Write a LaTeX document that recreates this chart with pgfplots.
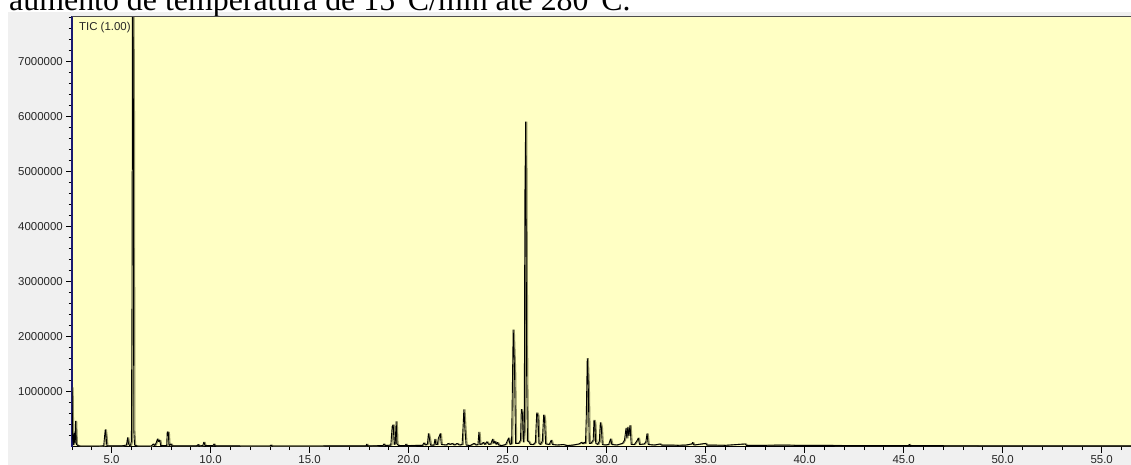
\documentclass[border=0pt]{standalone}
\usepackage{pgfplots}
\pgfplotsset{compat=1.18}
\usepackage{pgfplotstable}
\usepackage{fontspec}
\setmainfont{Liberation Sans}
\newfontfamily\seriffont{Liberation Serif}
\definecolor{plotyellow}{HTML}{FFFFC4}
\definecolor{panelgray}{HTML}{F0F0F0}
\definecolor{oliveshade}{HTML}{8C8C60}
\definecolor{navyaxis}{HTML}{1A1A70}
\pgfplotstableread{
t v
3.00 1080000
3.03 150000
3.07 30000
3.10 250000
3.14 60000
3.18 470000
3.22 40000
3.30 20000
3.40 10000
4.00 10000
4.40 12000
4.60 15000
4.68 316000
4.72 190000
4.76 15000
5.50 15000
5.75 30000
5.81 170000
5.85 60000
5.90 20000
5.96 30000
6.00 100000
6.03 2730000
6.06 9500000
6.10 5940000
6.12 300000
6.16 30000
6.30 10000
7.00 12000
7.10 50000
7.18 20000
7.26 80000
7.32 145000
7.37 90000
7.43 120000
7.48 20000
7.78 20000
7.81 270000
7.86 260000
7.90 20000
8.00 50000
8.05 15000
9.30 15000
9.37 40000
9.42 15000
9.60 20000
9.66 85000
9.72 20000
10.12 20000
10.17 50000
10.22 15000
13.00 12000
13.05 30000
13.10 12000
17.85 15000
17.88 50000
17.92 15000
18.70 20000
18.75 50000
18.82 20000
19.10 30000
19.17 370000
19.22 400000
19.27 40000
19.32 60000
19.37 460000
19.41 50000
19.50 20000
19.83 20000
19.86 50000
19.90 20000
20.70 25000
20.77 70000
20.85 30000
20.95 50000
21.00 240000
21.05 150000
21.10 30000
21.28 30000
21.33 140000
21.38 40000
21.45 40000
21.50 150000
21.60 240000
21.65 40000
21.90 30000
22.00 60000
22.10 40000
22.20 60000
22.30 30000
22.45 60000
22.55 30000
22.70 40000
22.75 370000
22.79 680000
22.85 300000
22.90 30000
23.10 20000
23.30 60000
23.40 30000
23.50 40000
23.55 270000
23.60 40000
23.70 50000
23.77 80000
23.85 40000
23.95 90000
24.05 40000
24.15 50000
24.24 140000
24.30 60000
24.35 100000
24.42 40000
24.48 80000
24.55 30000
24.70 20000
24.90 40000
25.05 160000
25.12 40000
25.20 60000
25.23 850000
25.28 2130000
25.35 1380000
25.40 60000
25.55 60000
25.65 120000
25.69 680000
25.75 600000
25.79 80000
25.84 300000
25.87 4550000
25.91 5910000
25.96 1350000
26.00 100000
26.05 100000
26.15 40000
26.30 40000
26.40 80000
26.47 620000
26.53 560000
26.58 60000
26.65 40000
26.75 100000
26.82 580000
26.86 520000
26.92 50000
27.10 40000
27.20 120000
27.26 40000
27.50 30000
27.80 40000
28.00 20000
28.30 30000
28.60 50000
28.74 80000
28.80 50000
28.87 80000
28.93 60000
28.97 530000
29.02 1610000
29.07 1120000
29.12 60000
29.20 60000
29.32 120000
29.36 485000
29.40 430000
29.45 60000
29.55 40000
29.63 100000
29.68 440000
29.73 350000
29.78 40000
29.90 30000
30.10 40000
30.20 145000
30.26 40000
30.50 30000
30.80 60000
30.90 120000
30.98 340000
31.02 150000
31.07 360000
31.12 200000
31.18 390000
31.24 40000
31.40 40000
31.55 120000
31.60 160000
31.66 40000
31.90 50000
31.98 90000
32.04 240000
32.10 40000
32.40 30000
32.70 50000
32.76 30000
33.20 30000
33.60 25000
34.00 30000
34.30 50000
34.34 80000
34.40 30000
35.00 60000
35.05 30000
36.00 25000
37.00 50000
37.05 25000
38.00 25000
39.00 30000
39.50 25000
40.00 25000
41.00 25000
42.00 20000
45.25 20000
45.28 45000
45.32 20000
50.00 15000
56.50 15000
}\tic
\begin{document}
\begin{tikzpicture}
\useasboundingbox (0,0) rectangle (1131bp,465bp);
\clip (0,0) rectangle (1131bp,465bp);
\fill[white] (0,0) rectangle (1131bp,465bp);
\fill[panelgray] (8bp,0) rectangle (1131bp,453bp);
\node[anchor=base west, inner sep=0pt, font=\seriffont\fontsize{32}{36}\selectfont] at (9bp,454bp) {aumento de temperatura de 15°C/min até 280°C.};
\begin{axis}[
  at={(72bp,18.3bp)}, anchor=south west,
  width=1059.4bp, height=430.2bp, scale only axis,
  xmin=3, xmax=56.5, ymin=0, ymax=7822000,
  axis x line*=bottom, axis y line*=left,
  axis background/.style={fill=plotyellow},
  x axis line style={black, line width=1.3bp, -},
  y axis line style={navyaxis, line width=1.3bp, -},
  tick align=outside,
  major tick length=6bp, minor tick length=3.5bp,
  every tick/.style={black, line width=0.8bp},
  xtick={5,10,15,20,25,30,35,40,45,50,55},
  xticklabels={5.0,10.0,15.0,20.0,25.0,30.0,35.0,40.0,45.0,50.0,55.0},
  minor xtick={3,4,6,7,8,9,11,12,13,14,16,17,18,19,21,22,23,24,26,27,28,29,31,32,33,34,36,37,38,39,41,42,43,44,46,47,48,49,51,52,53,54,56},
  ytick={1000000,2000000,3000000,4000000,5000000,6000000,7000000},
  yticklabels={1000000,2000000,3000000,4000000,5000000,6000000,7000000},
  minor ytick={200000,400000,600000,800000,1200000,1400000,1600000,1800000,2200000,2400000,2600000,2800000,3200000,3400000,3600000,3800000,4200000,4400000,4600000,4800000,5200000,5400000,5600000,5800000,6200000,6400000,6600000,6800000,7200000,7400000,7600000,7800000},
  scaled y ticks=false,
  tick label style={font=\fontsize{11.5}{12}\selectfont, text=black!85},
  xticklabel style={inner sep=0pt, anchor=north, yshift=-3bp},
  yticklabel style={inner sep=0pt, anchor=east, xshift=-3bp},
  clip=true,
]
\addplot[draw=oliveshade, fill=none, line width=1.1bp, line join=bevel, xshift=1.1bp, mark=none] table[x=t, y=v] {\tic};
\addplot[draw=black, fill=none, line width=0.9bp, line join=bevel, mark=none] table[x=t, y=v] {\tic};
\draw[black!70, line width=1.2bp] (rel axis cs:0,1) -- (rel axis cs:1,1);
\node[anchor=west, inner sep=0pt, font=\fontsize{11.5}{12}\selectfont, text=black!85] at (rel axis cs:0.0065,0.975) {TIC (1.00)};
\end{axis}
\end{tikzpicture}
\end{document}
